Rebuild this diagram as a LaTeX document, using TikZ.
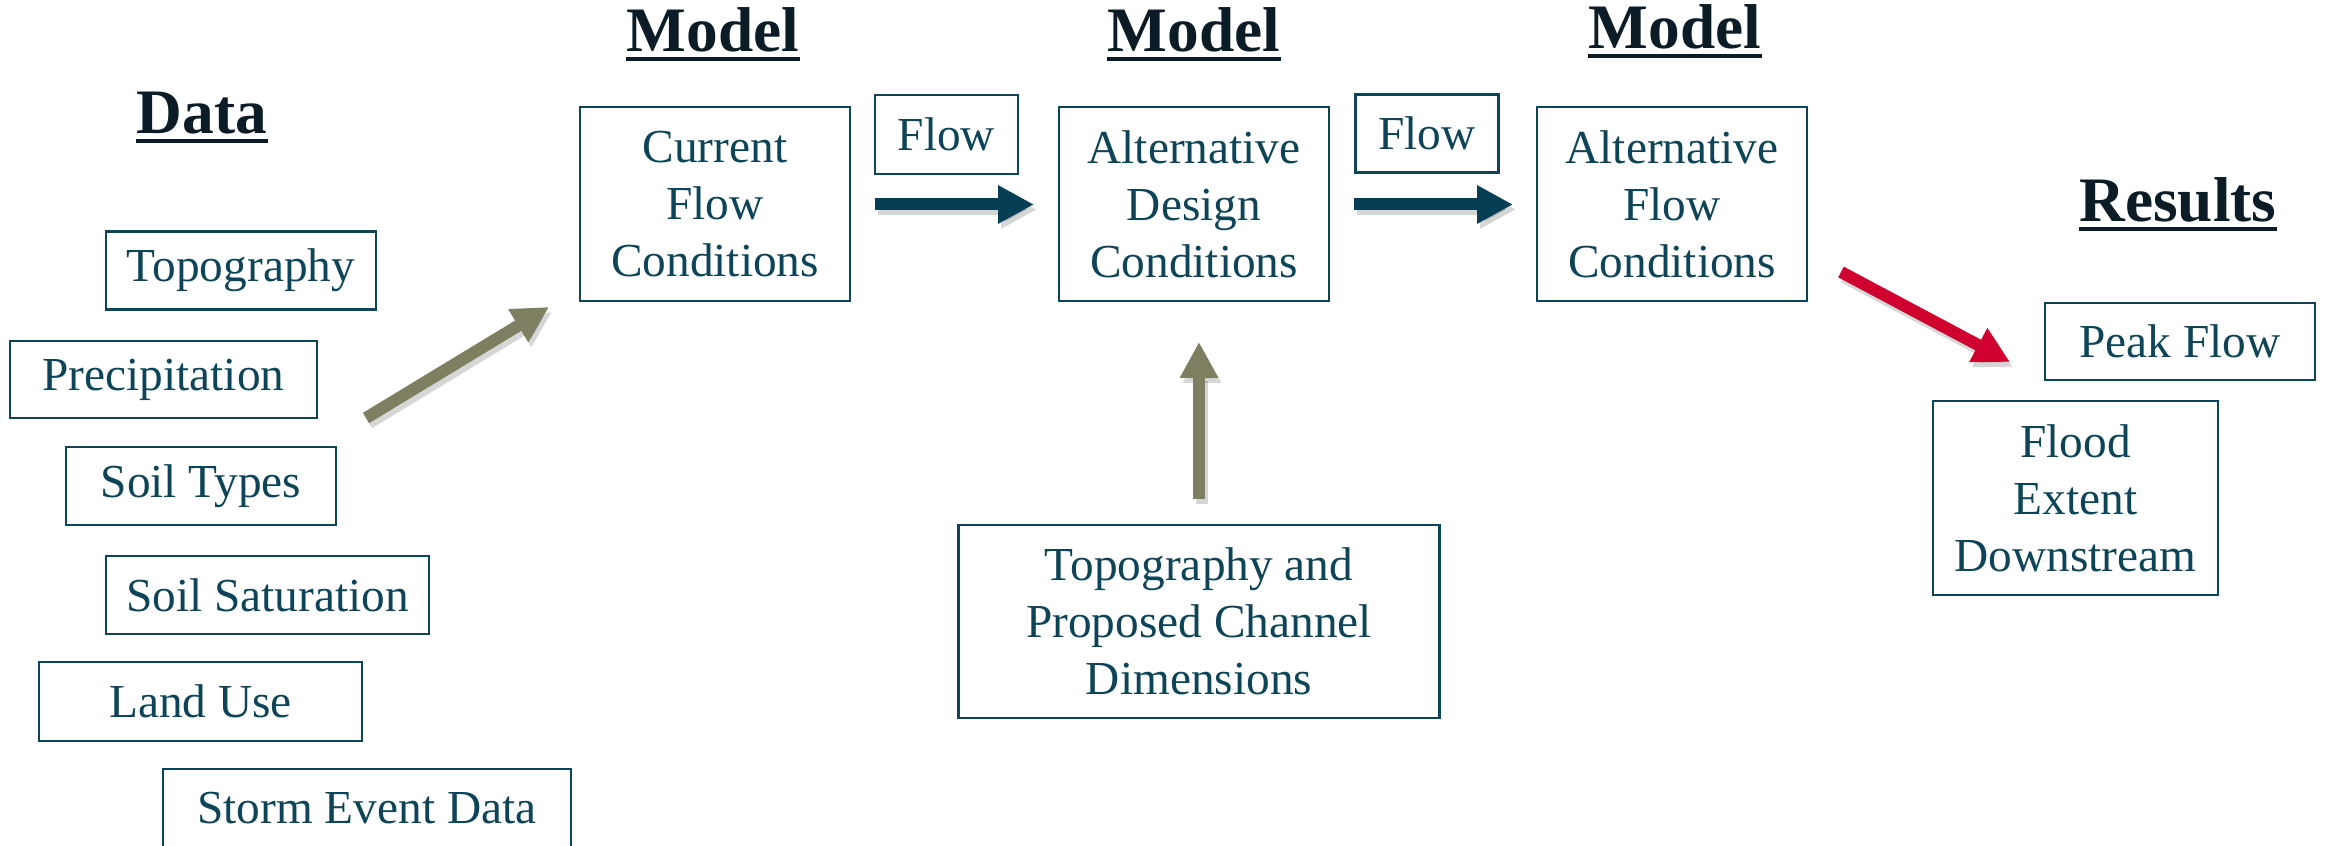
\documentclass[tikz,border=0pt]{standalone}
\usepackage{fontspec}
\setmainfont{Liberation Serif}
\usetikzlibrary{arrows.meta}

\definecolor{ink}{HTML}{0E4458}
\definecolor{headink}{HTML}{0B1C26}
\definecolor{navyarrow}{HTML}{063F55}
\definecolor{olivearrow}{HTML}{7E7E60}
\definecolor{redarrow}{HTML}{D0002E}

\tikzset{
  textbox/.style 2 args={draw=ink, line width=0.8pt, text=ink, align=center,
    inner sep=0pt, minimum width=#1*0.3pt, minimum height=#2*0.3pt,
    font=\fontsize{14.2}{17.1}\selectfont},
  heading/.style={text=headink, inner sep=0pt, anchor=base,
    font=\fontsize{19}{22}\selectfont\bfseries},
  headrule/.style={draw=headink, line width=1.05pt},
  blockarrow/.style={line width=3.6pt, line cap=butt,
    -{Triangle[length=10.8pt, width=10.8pt]}, draw=#1},
  arrowshade/.style={line width=3.6pt, line cap=butt,
    -{Triangle[length=10.8pt, width=10.8pt]}, draw=black, opacity=0.16},
}

\begin{document}
\begin{tikzpicture}[x=0.3pt, y=-0.3pt]
\useasboundingbox (0,0) rectangle (2326,846);

% headings
\node[heading] (hdata) at (202,134) {Data};
\node[heading] (hmodA) at (713,52) {Model};
\node[heading] (hmodB) at (1194,52) {Model};
\node[heading] (hmodC) at (1675,49) {Model};
\node[heading] (hres) at (2178,222) {Results};
\foreach \h in {hdata,hmodA,hmodB,hmodC,hres}
  \draw[headrule] ([yshift=-2.1pt]\h.base west) -- ([yshift=-2.1pt]\h.base east);

% data inputs
\node[textbox={270}{78}] (topo) at (241,270.5) {Topography};
\node[textbox={307}{77}] (precip) at (163.5,379.5) {Precipitation};
\node[textbox={270}{78}] (soiltype) at (201,486) {Soil Types};
\node[textbox={323}{78}] (soilsat) at (267.5,595) {Soil Saturation};
\node[textbox={323}{79}] (landuse) at (200.5,701.5) {Land Use};
\node[textbox={408}{78}] (storm) at (367,808) {Storm Event Data};

% model chain
\node[textbox={270}{194}] (current) at (715,204) {Current\\Flow\\Conditions};
\node[textbox={143}{79}] (flowA) at (946.5,134.5) {Flow};
\node[textbox={270}{194}] (design) at (1194,204) {Alternative\\Design\\Conditions};
\node[textbox={143}{78}] (flowB) at (1427,133.5) {Flow};
\node[textbox={270}{194}] (altflow) at (1672,204) {Alternative\\Flow\\Conditions};
\node[textbox={481}{193}] (channel) at (1199,621.5) {Topography and\\Proposed Channel\\Dimensions};

% results
\node[textbox={270}{77}] (peak) at (2180,341.5) {Peak Flow};
\node[textbox={285}{194}] (flood) at (2075.5,498) {Flood\\Extent\\Downstream};

% arrow end points
\coordinate (dataTail) at (366,418);
\coordinate (dataTip) at (549,307);
\coordinate (flowATail) at (875,204.5);
\coordinate (flowATip) at (1034,204.5);
\coordinate (flowBTail) at (1354,204.5);
\coordinate (flowBTip) at (1513,204.5);
\coordinate (chanTail) at (1199,499);
\coordinate (chanTip) at (1199,342);
\coordinate (resTail) at (1841,272);
\coordinate (resTip) at (2010,362);

% soft shadows under the arrows
\foreach \a/\b in {dataTail/dataTip,flowATail/flowATip,flowBTail/flowBTip,chanTail/chanTip,resTail/resTip}
  \draw[arrowshade] ([shift={(3,5)}]\a) -- ([shift={(3,5)}]\b);

% arrows
\draw[blockarrow=olivearrow] (dataTail) -- (dataTip);
\draw[blockarrow=navyarrow] (flowATail) -- (flowATip);
\draw[blockarrow=navyarrow] (flowBTail) -- (flowBTip);
\draw[blockarrow=olivearrow] (chanTail) -- (chanTip);
\draw[blockarrow=redarrow] (resTail) -- (resTip);
\end{tikzpicture}
\end{document}
